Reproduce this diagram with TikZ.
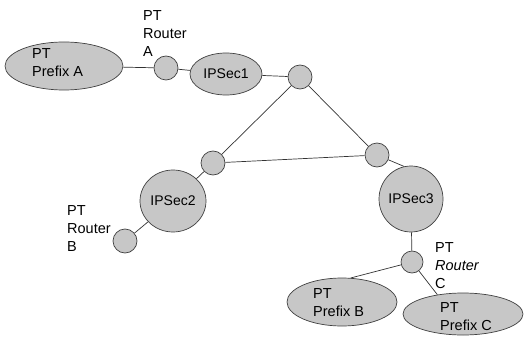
\documentclass[tikz,border=0pt]{standalone}
\usepackage{fontspec}
\setmainfont{Liberation Sans}
\usetikzlibrary{shapes.geometric}
\begin{document}
\begin{tikzpicture}[x=1pt,y=-1pt,
  bigell/.style={ellipse,draw=black!75,fill=black!22,line width=0.7pt,inner sep=0pt,font=\fontsize{14}{18}\selectfont},
  rtr/.style={circle,draw=black!75,fill=black!22,line width=0.7pt,inner sep=0pt,minimum size=24pt},
  lbl/.style={align=left,font=\fontsize{14.5}{18}\selectfont,inner sep=0pt,anchor=north west},
  conn/.style={draw=black!80,line width=0.7pt}]
\useasboundingbox (0,0) rectangle (526,339);
% ellipses
\node[bigell,minimum width=118pt,minimum height=48pt] (pa) at (64,66) {};
\node[bigell,minimum width=72pt,minimum height=42pt] (s1) at (226,74) {IPSec1};
\node[bigell,minimum width=66pt,minimum height=62pt] (s2) at (173,201) {IPSec2};
\node[bigell,minimum width=64pt,minimum height=66pt] (s3) at (411,199) {IPSec3};
\node[bigell,minimum width=110pt,minimum height=48pt] (pb) at (342,302) {};
\node[bigell,minimum width=120pt,minimum height=42pt] (pc) at (463,314) {};
% small circles
\node[rtr] (ra) at (166,68) {};
\node[rtr] (c1) at (300,77) {};
\node[rtr] (c2) at (213,163) {};
\node[rtr] (c3) at (377,155) {};
\node[rtr] (rb) at (125,241) {};
\node[rtr,minimum size=22pt] (rc) at (412,262) {};
% texts
\node[lbl] (pat) at (32,48) {PT\\Prefix A};
\node[lbl] (pbt) at (313,288) {PT\\Prefix B};
\node[lbl] (pct) at (440,302) {PT\\Prefix C};
\node[lbl] (la) at (143,10) {PT\\Router\\A};
\node[lbl] (lb) at (67,205) {PT\\Router\\B};
\node[lbl] (lc) at (435,242) {PT\\\textit{Router}\\C};
% connectors
\draw[conn] (pa) -- (ra);
\draw[conn] (ra) -- (s1);
\draw[conn] (s1) -- (c1);
\draw[conn] (c1) -- (c2);
\draw[conn] (c1) -- (c3);
\draw[conn] (c2) -- (c3);
\draw[conn] (c2) -- (s2);
\draw[conn] (s2) -- (rb);
\draw[conn] (c3) -- (s3.102);
\draw[conn] (s3) -- (rc);
\draw[conn] (rc) -- (pb.70);
\draw[conn] (rc) -- (pc.143);
\end{tikzpicture}
\end{document}
